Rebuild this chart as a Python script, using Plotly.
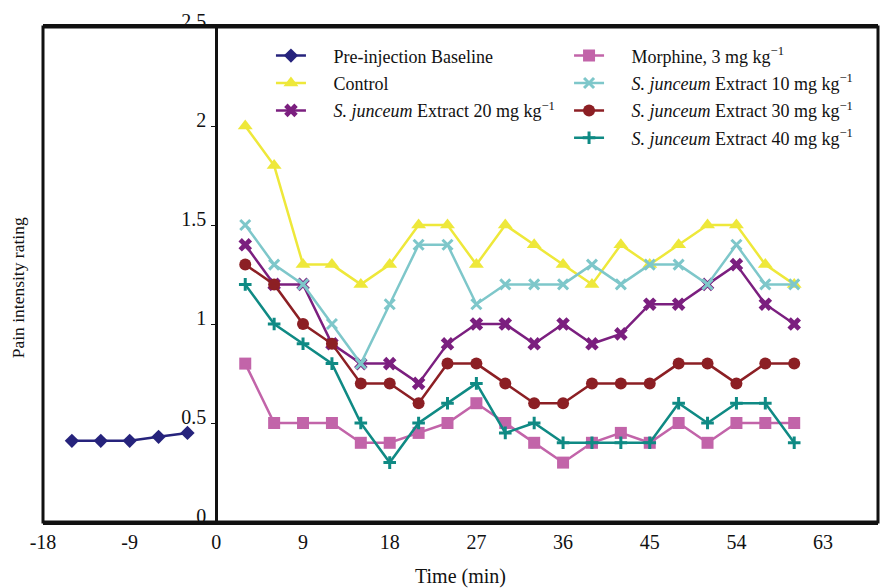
import plotly.graph_objects as go

# ---- data ----
baseline_t = [-15, -12, -9, -6, -3]
baseline_v = [0.41, 0.41, 0.41, 0.43, 0.45]

time_min = [3, 6, 9, 12, 15, 18, 21, 24, 27, 30, 33, 36, 39, 42, 45, 48, 51, 54, 57, 60]
control = [2.0, 1.8, 1.3, 1.3, 1.2, 1.3, 1.5, 1.5, 1.3, 1.5, 1.4, 1.3, 1.2, 1.4, 1.3, 1.4, 1.5, 1.5, 1.3, 1.2]
morphine = [0.8, 0.5, 0.5, 0.5, 0.4, 0.4, 0.45, 0.5, 0.6, 0.5, 0.4, 0.3, 0.4, 0.45, 0.4, 0.5, 0.4, 0.5, 0.5, 0.5]
ext10 = [1.5, 1.3, 1.2, 1.0, 0.8, 1.1, 1.4, 1.4, 1.1, 1.2, 1.2, 1.2, 1.3, 1.2, 1.3, 1.3, 1.2, 1.4, 1.2, 1.2]
ext20 = [1.4, 1.2, 1.2, 0.9, 0.8, 0.8, 0.7, 0.9, 1.0, 1.0, 0.9, 1.0, 0.9, 0.95, 1.1, 1.1, 1.2, 1.3, 1.1, 1.0]
ext30 = [1.3, 1.2, 1.0, 0.9, 0.7, 0.7, 0.6, 0.8, 0.8, 0.7, 0.6, 0.6, 0.7, 0.7, 0.7, 0.8, 0.8, 0.7, 0.8, 0.8]
ext40 = [1.2, 1.0, 0.9, 0.8, 0.5, 0.3, 0.5, 0.6, 0.7, 0.45, 0.5, 0.4, 0.4, 0.4, 0.4, 0.6, 0.5, 0.6, 0.6, 0.4]

x_ticks = [-18, -9, 0, 9, 18, 27, 36, 45, 54, 63]
y_ticks = [0, 0.5, 1, 1.5, 2, 2.5]
y_tick_text = ["0", "0.5", "1", "1.5", "2", "2.5"]

FONT = "Liberation Serif"
X_RANGE = [-18, 68.7]
PAD = "\u2003\u2005"  # gap between legend symbol and its label

fig = go.Figure()

def add(x, y, name, color, symbol, size, legend, mlw=0):
    fig.add_trace(go.Scatter(
        x=x, y=y, name=PAD + name, mode="lines+markers",
        line=dict(color=color, width=2.5),
        marker=dict(symbol=symbol, size=size, color=color,
                    line=dict(color=color, width=mlw)),
        legend=legend, legendgroup=name,
    ))

add(baseline_t, baseline_v, "Pre-injection Baseline", "#26237c", "diamond", 11, "legend")
add(time_min, control, "Control", "#eee83a", "triangle-up", 13, "legend")
add(time_min, ext20, "<i>S. junceum</i> Extract 20 mg kg<sup>−1</sup>", "#7b1f7f", "x", 12, "legend")
add(time_min, morphine, "Morphine, 3 mg kg<sup>−1</sup>", "#c264a9", "square", 12, "legend2")
add(time_min, ext10, "<i>S. junceum</i> Extract 10 mg kg<sup>−1</sup>", "#7ec7ca", "x-thin", 10, "legend2", mlw=3)
add(time_min, ext30, "<i>S. junceum</i> Extract 30 mg kg<sup>−1</sup>", "#8c1f24", "circle", 12, "legend2")
add(time_min, ext40, "<i>S. junceum</i> Extract 40 mg kg<sup>−1</sup>", "#0f8a84", "cross-thin", 9, "legend2", mlw=3)

y_pos = (0 - X_RANGE[0]) / (X_RANGE[1] - X_RANGE[0])

legend_common = dict(font=dict(family=FONT, size=18, color="#111"),
                     bgcolor="rgba(0,0,0,0)", tracegroupgap=1,
                     xanchor="left", yanchor="top")

fig.update_layout(
    width=880, height=588,
    margin=dict(l=43, r=2, t=27, b=66),
    paper_bgcolor="white", plot_bgcolor="white",
    font=dict(family=FONT, size=18, color="#111"),
    showlegend=True,
    legend=dict(x=0.273, y=0.979, **legend_common),
    legend2=dict(x=0.630, y=0.979, **legend_common),
    xaxis=dict(range=X_RANGE, tickmode="array", tickvals=x_ticks,
               ticktext=[str(v) for v in x_ticks],
               showgrid=False, zeroline=False, showline=True,
               linecolor="#111", linewidth=3, mirror=True,
               ticks="", ticklabelstandoff=0,
               tickfont=dict(family=FONT, size=20),
               title=dict(text="Time (min)", font=dict(family=FONT, size=20), standoff=18)),
    yaxis=dict(range=[0, 2.5], tickmode="array", tickvals=y_ticks, ticktext=y_tick_text,
               anchor="free", position=y_pos,
               showgrid=False, zeroline=False, showline=True,
               linecolor="#111", linewidth=3,
               ticks="outside", ticklen=4, tickcolor="#111",
               ticklabelshift=-6, ticklabelstandoff=1,
               tickfont=dict(family=FONT, size=20),
               title=dict(text="")),
    annotations=[dict(text="Pain intensity rating", xref="paper", yref="paper",
                      x=-0.03, y=0.474, textangle=-90, showarrow=False,
                      xanchor="center", yanchor="middle",
                      font=dict(family=FONT, size=17.5))],
    shapes=[dict(type="rect", xref="paper", yref="paper", x0=0, x1=1, y0=0, y1=1,
                 line=dict(color="#111", width=3), layer="above")],
)

fig.write_html("out.html", config={"displayModeBar": False},
               post_script="document.body.style.margin='0';")
